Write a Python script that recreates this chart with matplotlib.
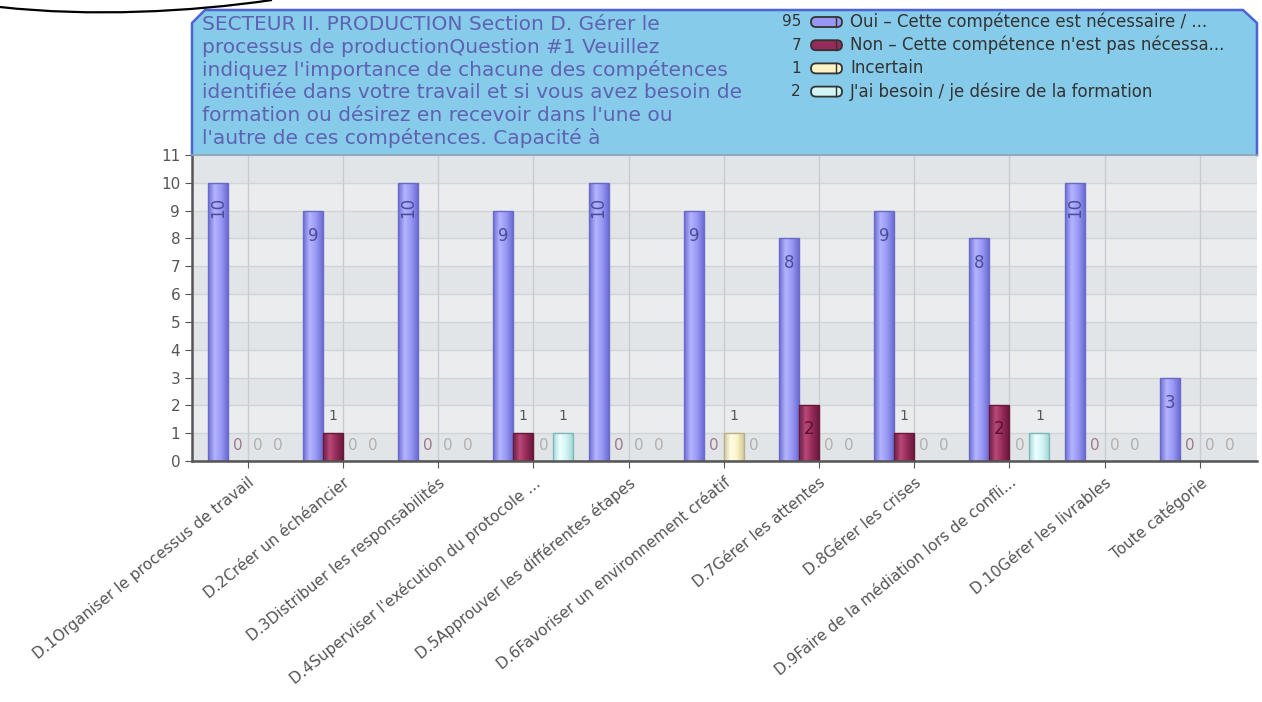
"""Bar chart: SECTEUR II. PRODUCTION - Section D (survey counts per competence)."""
import matplotlib
matplotlib.use("Agg")
import matplotlib.pyplot as plt
import numpy as np
from matplotlib.colors import LinearSegmentedColormap
from matplotlib.patches import Polygon, FancyBboxPatch, PathPatch
from matplotlib.path import Path
from matplotlib.transforms import Affine2D

W, H = 1262, 702

categories = [
    "D.1Organiser le processus de travail",
    "D.2Créer un échéancier",
    "D.3Distribuer les responsabilités",
    "D.4Superviser l'exécution du protocole ...",
    "D.5Approuver les différentes étapes",
    "D.6Favoriser un environnement créatif",
    "D.7Gérer les attentes",
    "D.8Gérer les crises",
    "D.9Faire de la médiation lors de confli...",
    "D.10Gérer les livrables",
    "Toute catégorie",
]
series_names = [
    "Oui – Cette compétence est nécessaire / ...",
    "Non – Cette compétence n'est pas nécessa...",
    "Incertain",
    "J'ai besoin / je désire de la formation",
]
oui = [10, 9, 10, 9, 10, 9, 8, 9, 8, 10, 3]
non = [0, 1, 0, 1, 0, 0, 2, 1, 2, 0, 0]
incertain = [0, 0, 0, 0, 0, 1, 0, 0, 0, 0, 0]
formation = [0, 0, 0, 1, 0, 0, 0, 0, 1, 0, 0]
title_lines = [
    "SECTEUR II. PRODUCTION Section D. Gérer le",
    "processus de productionQuestion #1 Veuillez",
    "indiquez l'importance de chacune des compétences",
    "identifiée dans votre travail et si vous avez besoin de",
    "formation ou désirez en recevoir dans l'une ou",
    "l'autre de ces compétences. Capacité à",
]

series = [oui, non, incertain, formation]
face = ["#9898f4", "#962a58", "#fbf3c4", "#d2f4f4"]
shade = [("#6c6cd4", "#b4b4ff"), ("#6a1a3e", "#b84a78"),
         ("#d2caa0", "#fffce6"), ("#a4d8d8", "#efffff")]
edge = ["#6a6ac8", "#6a1838", "#b8b088", "#7cb8b8"]
zero_col = [None, "#a07a8a", "#b0b0b0", "#b0b0b0"]

plt.rcParams["font.family"] = ["DejaVu Sans"]
fig = plt.figure(figsize=(W / 100, H / 100), dpi=100)
fig.patch.set_facecolor("white")
# pixel coordinates, origin at top-left
pix = Affine2D().scale(1 / 100, -1 / 100).translate(0, H / 100) + fig.dpi_scale_trans

ax = fig.add_axes([192 / W, 1 - 461 / H, (1257 - 192) / W, (461 - 155) / H])
ax.set_facecolor("#eaecee")
for k in range(11):
    if k % 2 == 0:
        ax.axhspan(k, k + 1, color="#e2e5e8", lw=0, zorder=0)
for k in range(12):
    ax.axhline(k, color="#d2d5d8", lw=1, zorder=0.5)

x = np.arange(len(categories))
bw = 0.21
offsets = [-1.5 * bw, -0.5 * bw, 0.5 * bw, 1.5 * bw]
grad = np.linspace(0, 1, 64).reshape(1, -1)
for s, vals in enumerate(series):
    bars = ax.bar(x + offsets[s], vals, bw, facecolor="none", edgecolor=edge[s],
                  lw=1, zorder=2.2)
    cm = LinearSegmentedColormap.from_list(f"c{s}", [shade[s][0], shade[s][1], face[s], shade[s][0]])
    for rect in bars:
        if rect.get_height() <= 0:
            continue
        x0 = rect.get_x()
        im = ax.imshow(grad, extent=(x0, x0 + rect.get_width(), 0, rect.get_height()),
                       aspect="auto", cmap=cm, zorder=2, interpolation="bilinear")
        im.set_clip_path(rect)
    for i, v in enumerate(vals):
        xi = x[i] + offsets[s]
        if s == 0:
            ax.text(xi, v - 0.9, str(v), ha="center", va="center", fontsize=12,
                    color="#4c4c96", rotation=90 if v >= 10 else 0, zorder=3)
        elif v == 0:
            ax.text(xi, 0.55, "0", ha="center", va="center", fontsize=11,
                    color=zero_col[s], zorder=3)
        elif v == 1:
            ax.text(xi, v + 0.6, "1", ha="center", va="center", fontsize=10,
                    color="#555555", zorder=3)
        else:
            ax.text(xi, v - 0.85, str(v), ha="center", va="center", fontsize=12,
                    color="#5a1030", zorder=3)

ax.set_xlim(-0.585, 10.6)
ax.set_ylim(0, 11)
ax.set_xticks(x)
ax.set_xticklabels(categories, rotation=39, ha="right", va="top",
                   rotation_mode="anchor", fontsize=11, color="#555555")
ax.set_yticks(range(12))
ax.tick_params(axis="y", labelsize=11, labelcolor="#555555", length=5, color="#555555")
ax.tick_params(axis="x", length=5, color="#555555", pad=5)
ax.grid(axis="x", color="#c8ccd0", lw=1, zorder=0.6)
for side in ["top", "right"]:
    ax.spines[side].set_visible(False)
for side in ["left", "bottom"]:
    ax.spines[side].set_color("#555555")
    ax.spines[side].set_linewidth(1.8)

# header box with clipped top corners
box = [(192, 155), (192, 23), (205, 10), (1243, 10), (1257, 23), (1257, 155)]
fig.patches.append(Polygon(box, closed=True, transform=pix, facecolor="#86cbe9",
                           edgecolor="none", zorder=1))
fig.lines.append(plt.Line2D([p[0] for p in box], [p[1] for p in box], transform=pix,
                            color="#4d64d6", lw=1.8, zorder=2))
fig.lines.append(plt.Line2D([192, 1257], [155, 155], transform=pix,
                            color="#8ea4b4", lw=1.2, zorder=2))

for i, line in enumerate(title_lines):
    fig.text(202, 25 + 22.6 * i, line, transform=pix, ha="left", va="center",
             fontsize=14.5, color="#5f62b2", zorder=3)

totals = [sum(v) for v in series]
for s, name in enumerate(series_names):
    yy = 22 + 23.2 * s
    fig.text(801, yy, str(totals[s]), transform=pix, ha="right", va="center",
             fontsize=11, color="#333333", zorder=3)
    fig.patches.append(FancyBboxPatch((811, yy - 5), 31, 10, transform=pix,
                                      boxstyle="round,pad=0,rounding_size=5",
                                      facecolor=face[s], edgecolor="#333333", lw=1.3, zorder=3))
    fig.lines.append(plt.Line2D([836, 836], [yy - 4.5, yy + 4.5], transform=pix,
                                color="#333333", lw=1, zorder=4))
    fig.text(850, yy, name, transform=pix, ha="left", va="center",
             fontsize=12, color="#333333", zorder=3)

# decorative curve at top-left
curve = Path([(0, 7), (90, 17), (190, 12), (272, 0)],
             [Path.MOVETO, Path.CURVE4, Path.CURVE4, Path.CURVE4])
fig.patches.append(PathPatch(curve, transform=pix, facecolor="none",
                             edgecolor="black", lw=1.6, zorder=3))

fig.savefig("out.png", dpi=100)
